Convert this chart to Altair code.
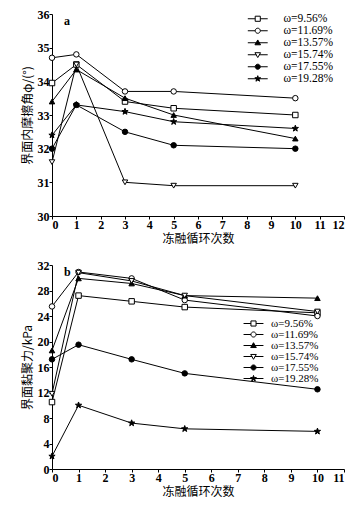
import altair as alt
import pandas as pd

cycles = [0, 1, 3, 5, 10]
series = ["ω=9.56%", "ω=11.69%", "ω=13.57%", "ω=15.74%", "ω=17.55%", "ω=19.28%"]

phi_956 = [33.95, 34.5, 33.4, 33.2, 33.0]
phi_1169 = [34.7, 34.8, 33.7, 33.7, 33.5]
phi_1357 = [33.4, 34.35, 33.5, 33.0, 32.3]
phi_1574 = [31.6, 34.5, 31.0, 30.9, 30.9]
phi_1755 = [32.0, 33.3, 32.5, 32.1, 32.0]
phi_1928 = [32.4, 33.3, 33.1, 32.8, 32.6]

coh_956 = [10.5, 27.2, 26.3, 25.4, 24.5]
coh_1169 = [25.5, 30.9, 29.9, 26.5, 24.0]
coh_1357 = [18.6, 29.9, 29.1, 27.2, 26.8]
coh_1574 = [11.8, 30.8, 29.5, 27.2, 24.7]
coh_1755 = [17.2, 19.5, 17.2, 15.0, 12.5]
coh_1928 = [2.0, 10.0, 7.2, 6.3, 5.9]

x_ticks_a = list(range(0, 13))
x_ticks_b = list(range(0, 12))
y_ticks_a = list(range(30, 37))
y_ticks_b = list(range(0, 33, 4))
panel_labels = ["a", "b"]
x_title = "冻融循环次数"
y_title_a = "界面内摩擦角φ/(°)"
y_title_b = "界面黏聚力/kPa"

STAR = "M0,-1.2L0.28,-0.39L1.14,-0.37L0.46,0.15L0.71,0.97L0,0.48L-0.71,0.97L-0.46,0.15L-1.14,-0.37L-0.28,-0.39Z"
marker_shapes = ["square", "circle", "triangle-up", "triangle-down", "circle", STAR]
marker_fills = ["white", "white", "black", "white", "black", "black"]
marker_strokes = ["black"] * 6

LN = "M-3.9,0L-{e},0M{e},0L3.9,0"
legend_shapes = [
    LN.format(e=1) + "M-1,-1L1,-1L1,1L-1,1Z",
    LN.format(e=1) + "M-1,0A1,1,0,1,1,1,0A1,1,0,1,1,-1,0Z",
    LN.format(e=0.5) + "M0,-1.1L1.1,0.8L-1.1,0.8Z",
    LN.format(e=0.5) + "M0,1.1L1.1,-0.8L-1.1,-0.8Z",
    LN.format(e=1) + "M-1,0A1,1,0,1,1,1,0A1,1,0,1,1,-1,0Z",
    LN.format(e=0.4) + STAR,
]


def make_df(vals):
    rows = []
    for s, v in zip(series, vals):
        for c, y in zip(cycles, v):
            rows.append({"cycle": c, "value": y, "series": s})
    return pd.DataFrame(rows)


def panel(vals, xmax, xticks, ydom, yticks, ytitle, letter, lx, ly, rowpad, fs, loff, h):
    df = make_df(vals)
    base = alt.Chart(df)
    x = alt.X("cycle:Q", scale=alt.Scale(domain=[0, xmax], nice=False),
              axis=alt.Axis(values=xticks, title=x_title, titlePadding=3))
    y = alt.Y("value:Q", scale=alt.Scale(domain=ydom, nice=False, zero=False),
              axis=alt.Axis(values=yticks, title=ytitle, titlePadding=3))
    lines = base.mark_line(color="black", strokeWidth=1).encode(x=x, y=y, detail="series:N")
    pts = base.mark_point(size=30, stroke="black", strokeWidth=1, opacity=1).encode(
        x=x, y=y,
        shape=alt.Shape("series:N", scale=alt.Scale(domain=series, range=marker_shapes), legend=None),
        fill=alt.Fill("series:N", scale=alt.Scale(domain=series, range=marker_fills), legend=None),
    )
    leg = alt.Legend(title=None, orient="none", legendX=lx, legendY=ly,
                     symbolSize=26, symbolStrokeColor="black", symbolStrokeWidth=1,
                     labelOffset=loff, rowPadding=rowpad,
                     labelFont="Liberation Serif", labelFontSize=fs, labelColor="black")
    dummy = base.transform_filter("datum.cycle < 0").mark_point(
        size=26, strokeWidth=1, opacity=1).encode(
        x=x, y=y,
        shape=alt.Shape("series:N", scale=alt.Scale(domain=series, range=legend_shapes), legend=leg),
        fill=alt.Fill("series:N", scale=alt.Scale(domain=series, range=marker_fills), legend=leg),
        stroke=alt.Stroke("series:N", scale=alt.Scale(domain=series, range=marker_strokes), legend=leg),
    )
    txt = alt.Chart(pd.DataFrame({"t": [letter]})).mark_text(
        font="Liberation Serif", fontSize=12, fontWeight="bold", align="left", baseline="top", color="black"
    ).encode(text="t:N", x=alt.value(12), y=alt.value(2))
    return alt.layer(lines, pts, dummy, txt).resolve_scale(
        shape="independent", fill="independent", stroke="independent").properties(width=292, height=h)


pa = panel([phi_956, phi_1169, phi_1357, phi_1574, phi_1755, phi_1928], 12, x_ticks_a,
           [30, 36], y_ticks_a, y_title_a, panel_labels[0], 200, -1, -3, 11.5, 20, 202)
pb = panel([coh_956, coh_1169, coh_1357, coh_1574, coh_1755, coh_1928], 11, x_ticks_b,
           [0, 32], y_ticks_b, y_title_b, panel_labels[1], 196, 53, -5, 11, 12, 204)

chart = alt.vconcat(pa, pb, spacing=15).properties(padding={"left": 13, "top": 0, "right": 0, "bottom": 0}).configure_view(
    stroke=None).configure_axis(
    grid=False, domainColor="black", tickColor="black", labelColor="black", titleColor="black",
    labelFont="Liberation Serif", labelFontWeight="bold", labelFontSize=12,
    titleFont="Noto Sans CJK SC", titleFontSize=12, titleFontWeight="normal", tickSize=3,
    labelPadding=0, domainWidth=1)

chart.save("out.html", embed_options={"renderer": "svg", "actions": False})
